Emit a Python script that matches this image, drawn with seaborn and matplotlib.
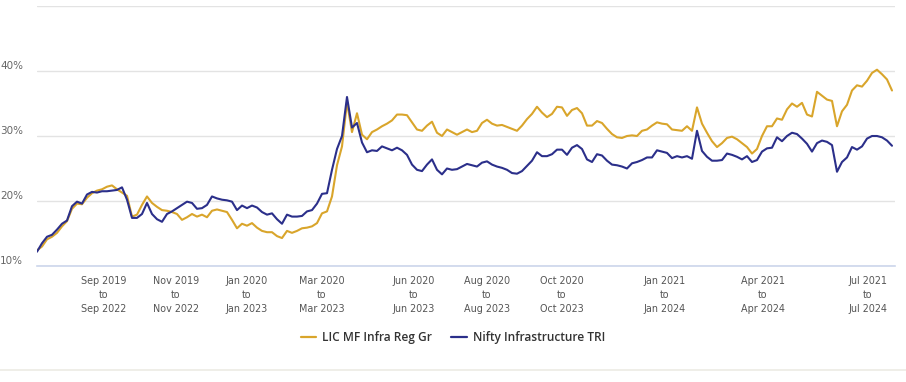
import numpy as np
import pandas as pd
import matplotlib
matplotlib.use("Agg")
import matplotlib.pyplot as plt
import seaborn as sns

# rolling 3y returns (%), one value per step along the chart
fund = [12.4, 13.0, 14.1, 14.5, 15.1, 16.1, 16.9, 18.8, 19.6, 19.5,
        20.5, 21.2, 21.6, 21.8, 22.2, 22.4, 21.8, 21.3, 20.8, 17.6,
        17.9, 19.4, 20.7, 19.7, 19.1, 18.6, 18.5, 18.3, 18.0, 17.1,
        17.5, 18.0, 17.6, 17.9, 17.5, 18.5, 18.7, 18.5, 18.3, 17.1,
        15.8, 16.5, 16.2, 16.6, 15.9, 15.4, 15.2, 15.2, 14.6, 14.3,
        15.4, 15.1, 15.4, 15.8, 15.9, 16.1, 16.6, 18.1, 18.4, 20.7,
        25.5, 28.4, 35.2, 30.6, 33.5, 30.2, 29.5, 30.6, 31.0, 31.5,
        31.9, 32.4, 33.3, 33.3, 33.2, 32.1, 31.0, 30.8, 31.6, 32.2,
        30.5, 30.0, 31.0, 30.6, 30.2, 30.6, 31.0, 30.6, 30.8, 32.0,
        32.5, 31.9, 31.6, 31.7, 31.4, 31.1, 30.8, 31.6, 32.6, 33.4,
        34.5, 33.6, 32.9, 33.4, 34.5, 34.4, 33.1, 34.0, 34.3, 33.5,
        31.6, 31.6, 32.3, 32.0, 31.1, 30.3, 29.8, 29.7, 30.0, 30.1,
        30.0, 30.8, 31.0, 31.6, 32.1, 31.9, 31.8, 31.0, 30.9, 30.8,
        31.5, 30.8, 34.4, 31.9, 30.5, 29.2, 28.3, 28.9, 29.7, 29.9,
        29.5, 28.9, 28.3, 27.3, 28.0, 30.0, 31.5, 31.5, 32.7, 32.5,
        34.1, 35.0, 34.5, 35.1, 33.3, 33.0, 36.8, 36.2, 35.6, 35.4,
        31.5, 33.8, 34.8, 37.0, 37.8, 37.6, 38.5, 39.7, 40.2, 39.5,
        38.7, 37.0]

index_tri = [12.2, 13.5, 14.5, 14.8, 15.6, 16.5, 17.0, 19.2, 19.9, 19.6,
             21.0, 21.4, 21.3, 21.5, 21.5, 21.6, 21.7, 22.1, 20.2, 17.4,
             17.4, 18.0, 19.7, 18.0, 17.2, 16.8, 18.0, 18.4, 18.9, 19.4,
             19.9, 19.7, 18.8, 18.9, 19.4, 20.7, 20.4, 20.2, 20.1, 19.9,
             18.6, 19.3, 18.9, 19.3, 19.0, 18.3, 17.9, 18.1, 17.2, 16.5,
             17.9, 17.6, 17.6, 17.7, 18.4, 18.6, 19.6, 21.1, 21.2, 24.8,
             28.0, 30.0, 36.0, 31.3, 32.0, 29.0, 27.5, 27.8, 27.7, 28.4,
             28.1, 27.8, 28.2, 27.8, 27.1, 25.6, 24.8, 24.6, 25.6, 26.4,
             24.8, 24.1, 25.0, 24.8, 24.9, 25.3, 25.7, 25.5, 25.3, 25.9,
             26.1, 25.6, 25.3, 25.1, 24.8, 24.3, 24.2, 24.6, 25.4, 26.2,
             27.5, 26.9, 26.9, 27.2, 27.9, 27.9, 27.1, 28.2, 28.6, 28.0,
             26.4, 26.0, 27.2, 27.0, 26.2, 25.6, 25.5, 25.3, 25.0, 25.8,
             26.0, 26.3, 26.7, 26.7, 27.8, 27.6, 27.4, 26.6, 26.9, 26.7,
             26.9, 26.5, 30.8, 27.7, 26.8, 26.2, 26.2, 26.3, 27.3, 27.1,
             26.8, 26.4, 26.9, 26.0, 26.3, 27.6, 28.1, 28.2, 29.8, 29.2,
             30.0, 30.5, 30.3, 29.6, 28.8, 27.6, 28.9, 29.3, 29.1, 28.6,
             24.5, 26.0, 26.7, 28.3, 27.9, 28.4, 29.6, 30.0, 30.0, 29.8,
             29.3, 28.5]

tick_pos = [13.4, 27.8, 42, 57, 75.4, 90, 105, 125.6, 145.2, 166.2]
tick_labels = ["Sep 2019\nto\nSep 2022", "Nov 2019\nto\nNov 2022",
               "Jan 2020\nto\nJan 2023", "Mar 2020\nto\nMar 2023",
               "Jun 2020\nto\nJun 2023", "Aug 2020\nto\nAug 2023",
               "Oct 2020\nto\nOct 2023", "Jan 2021\nto\nJan 2024",
               "Apr 2021\nto\nApr 2024", "Jul 2021\nto\nJul 2024"]
series_names = ["LIC MF Infra Reg Gr", "Nifty Infrastructure TRI"]
colors = ["#d9a52b", "#2b2f8a"]

df = pd.DataFrame({
    "step": list(range(len(fund))) * 2,
    "ret": fund + index_tri,
    "series": [series_names[0]] * len(fund) + [series_names[1]] * len(index_tri),
})

sns.set_style("white")
plt.rcParams["font.family"] = ["DejaVu Sans"]

fig = plt.figure(figsize=(9.06, 3.82), dpi=100)
ax = fig.add_axes([37 / 906, 1 - 266 / 382, 858 / 906, 260 / 382])

sns.lineplot(data=df, x="step", y="ret", hue="series", palette=colors,
             linewidth=1.5, legend=False, ax=ax)

ax.set_xlim(0, 171.6)
ax.set_ylim(10, 50)
ax.set_yticks([10, 20, 30, 40, 50])
ax.yaxis.grid(True, color="#e3e3e3", linewidth=1)
ax.set_axisbelow(True)
ax.tick_params(axis="y", length=0, labelleft=False)
for v in [10, 20, 30, 40]:
    ax.text(-0.016, v + 0.7, f"{v}%", transform=ax.get_yaxis_transform(),
            ha="right", va="center", fontsize=7.5, color="#666666")

ax.set_xticks(tick_pos)
ax.set_xticklabels(tick_labels, fontsize=6.9, color="#555555", linespacing=1.5)
ax.tick_params(axis="x", length=7, width=1, color="#ccd6eb", pad=0.5)

for s in ["top", "right", "left"]:
    ax.spines[s].set_visible(False)
ax.spines["bottom"].set_color("#ccd6eb")
ax.spines["bottom"].set_linewidth(1.2)
ax.set_xlabel("")
ax.set_ylabel("")

handles = [plt.Line2D([], [], color=c, linewidth=1.6) for c in colors]
fig.legend(handles, series_names, loc="center", bbox_to_anchor=(0.5, 1 - 338 / 382),
           ncol=2, frameon=False, handlelength=1.3, handletextpad=0.5,
           columnspacing=1.6, prop={"family": "Open Sans", "size": 8.6, "weight": "semibold"},
           labelcolor="#333333")

fig.add_artist(plt.Line2D([0, 1], [1 - 370 / 382] * 2, color="#ecebe4",
                          linewidth=1.2, transform=fig.transFigure))

fig.savefig("out.png", dpi=100)
